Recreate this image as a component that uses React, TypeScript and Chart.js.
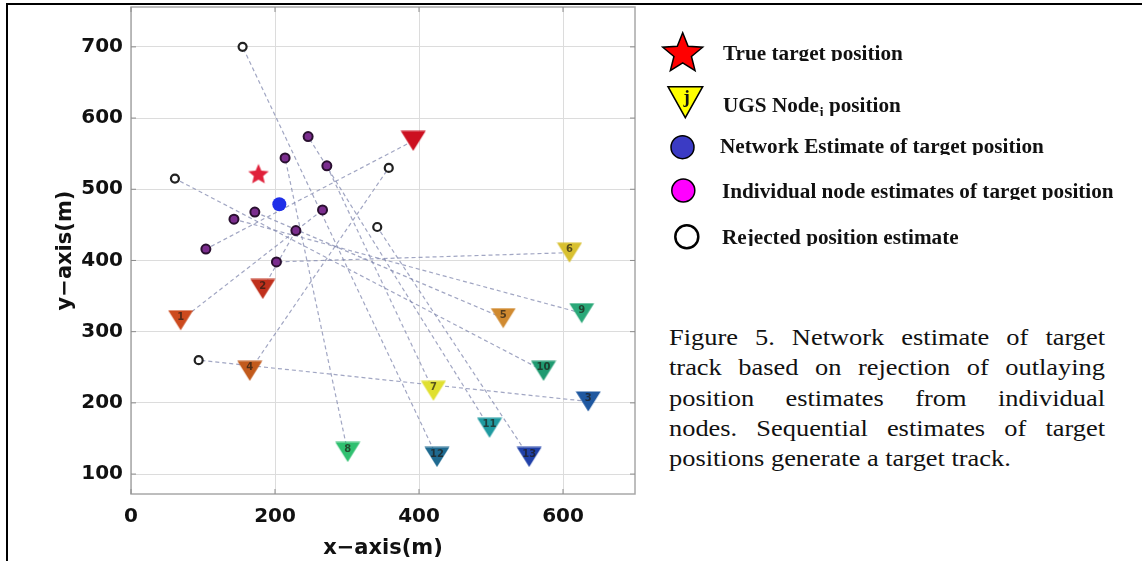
import { useEffect, useRef } from 'react';
import { Chart, registerables } from 'chart.js';

Chart.register(...registerables);

// UGS sensor nodes, drawn as down-pointing triangles
const nodeLabels = ['', '1', '2', '3', '4', '5', '6', '7', '8', '9', '10', '11', '12', '13'];
const nodeX = [392, 69, 183, 635, 165, 517, 609, 420, 301, 626, 573, 498, 425, 553];
const nodeY = [568, 316, 360, 202, 245, 319, 411, 217, 131, 326, 245, 165, 124, 124];
const nodeColors = [
  '#cc1020', '#cc4a1e', '#c0301c', '#1f58a0', '#c25a1c', '#d08a30', '#d8c030',
  '#e0e030', '#30c070', '#2aa878', '#1f9a70', '#1e9aa0', '#1f6a90', '#2040a8',
];

// Target position estimate reported by each node (same order as the nodes)
const estX = [104, 266, 229, 94, 358, 172, 202, 272, 214, 143, 61, 246, 155, 342];
const estY = [416, 471, 442, 260, 530, 468, 398, 533, 544, 458, 515, 574, 700, 447];
const estRejected = [false, false, false, true, true, false, false, false, false, false, true, false, true, true];

// True target and fused network estimate
const targetX = [177];
const targetY = [522];
const networkX = [206];
const networkY = [479];

// Axes
const xLimits = [0, 700];
const yLimits = [72, 756];
const xTicks = [0, 200, 400, 600];
const yTicks = [100, 200, 300, 400, 500, 600, 700];

const captionLines = [
  'Figure 5. Network estimate of target',
  'track based on rejection of outlaying',
  'position estimates from individual',
  'nodes. Sequential estimates of target',
  'positions generate a target track.',
];

const axisFont = { family: '"DejaVu Sans", Arial, sans-serif', weight: 'bold' as const, size: 20 };
const titleFont = { family: '"DejaVu Sans", Arial, sans-serif', weight: 'bold' as const, size: 21 };

function triangleMarker(color: string): HTMLCanvasElement {
  const c = document.createElement('canvas');
  c.width = 26;
  c.height = 21;
  const g = c.getContext('2d')!;
  g.fillStyle = color;
  g.beginPath();
  g.moveTo(0.5, 0.5);
  g.lineTo(25.5, 0.5);
  g.lineTo(13, 20.5);
  g.closePath();
  g.fill();
  return c;
}

function starMarker(color: string): HTMLCanvasElement {
  const c = document.createElement('canvas');
  c.width = 24;
  c.height = 22;
  const g = c.getContext('2d')!;
  const R = 10.8;
  const r = R * 0.45;
  const cx = 12;
  const cy = 11 + 0.0955 * R;
  g.fillStyle = color;
  g.beginPath();
  for (let k = 0; k < 10; k++) {
    const rad = k % 2 === 0 ? R : r;
    const ang = -Math.PI / 2 + (k * Math.PI) / 5;
    const px = cx + rad * Math.cos(ang);
    const py = cy + rad * Math.sin(ang);
    if (k === 0) g.moveTo(px, py);
    else g.lineTo(px, py);
  }
  g.closePath();
  g.fill();
  return c;
}

const plotDecor = {
  id: 'plotDecor',
  beforeDatasetsDraw(chart: any) {
    const { ctx, chartArea: a, scales } = chart;
    ctx.save();
    ctx.strokeStyle = '#a8a8a8';
    ctx.lineWidth = 1.5;
    ctx.strokeRect(a.left, a.top, a.right - a.left, a.bottom - a.top);
    ctx.strokeStyle = '#8c8c8c';
    ctx.lineWidth = 1;
    ctx.beginPath();
    for (const v of xTicks) {
      const px = scales.x.getPixelForValue(v);
      ctx.moveTo(px, a.bottom);
      ctx.lineTo(px, a.bottom - 5);
      ctx.moveTo(px, a.top);
      ctx.lineTo(px, a.top + 5);
    }
    for (const v of yTicks) {
      const py = scales.y.getPixelForValue(v);
      ctx.moveTo(a.left, py);
      ctx.lineTo(a.left + 5, py);
      ctx.moveTo(a.right, py);
      ctx.lineTo(a.right - 5, py);
    }
    ctx.stroke();
    ctx.restore();
  },
  afterDatasetsDraw(chart: any) {
    const { ctx } = chart;
    const meta = chart.getDatasetMeta(0);
    ctx.save();
    ctx.font = 'bold 10px "DejaVu Sans", Arial, sans-serif';
    ctx.fillStyle = 'rgba(30,25,20,0.7)';
    ctx.textAlign = 'center';
    ctx.textBaseline = 'middle';
    meta.data.forEach((el: any, i: number) => {
      if (nodeLabels[i]) ctx.fillText(nodeLabels[i], el.x, el.y - 3);
    });
    ctx.restore();
  },
};

function buildConfig(): any {
  const links = nodeX.map((x, i) => ({
    data: [
      { x, y: nodeY[i] },
      { x: estX[i], y: estY[i] },
    ],
    showLine: true,
    borderColor: 'rgba(130,136,175,0.75)',
    borderWidth: 1.2,
    borderDash: [4, 3],
    pointRadius: 0,
    order: 6,
  }));

  const accepted = estX
    .map((x, i) => ({ x, y: estY[i] }))
    .filter((_, i) => !estRejected[i]);
  const rejected = estX
    .map((x, i) => ({ x, y: estY[i] }))
    .filter((_, i) => estRejected[i]);

  const zeroPadding = (s: any) => {
    s.paddingLeft = 0;
    s.paddingRight = 0;
    s.paddingTop = 0;
    s.paddingBottom = 0;
  };

  return {
    type: 'scatter',
    data: {
      datasets: [
        {
          label: 'UGS Node position',
          data: nodeX.map((x, i) => ({ x, y: nodeY[i] })),
          pointStyle: nodeColors.map(triangleMarker),
          pointRadius: 10,
          order: 5,
        },
        {
          label: 'Network Estimate of target position',
          data: networkX.map((x, i) => ({ x, y: networkY[i] })),
          pointStyle: 'circle',
          pointRadius: 7,
          pointBackgroundColor: '#1f2fe8',
          pointBorderColor: '#1f2fe8',
          pointBorderWidth: 0,
          order: 0,
        },
        {
          label: 'True target position',
          data: targetX.map((x, i) => ({ x, y: targetY[i] })),
          pointStyle: starMarker('#e0203a'),
          pointRadius: 10,
          order: 1,
        },
        {
          label: 'Individual node estimates of target position',
          data: accepted,
          pointStyle: 'circle',
          pointRadius: 4.5,
          pointBackgroundColor: '#7b2d8e',
          pointBorderColor: '#2a1030',
          pointBorderWidth: 2,
          order: 2,
        },
        {
          label: 'Rejected position estimate',
          data: rejected,
          pointStyle: 'circle',
          pointRadius: 4,
          pointBackgroundColor: '#ffffff',
          pointBorderColor: '#222222',
          pointBorderWidth: 2.2,
          order: 3,
        },
        ...links,
      ],
    },
    options: {
      animation: false,
      responsive: false,
      events: [],
      layout: { autoPadding: false, padding: { left: 0, top: 7, right: 5, bottom: 0 } },
      plugins: { legend: { display: false }, tooltip: { enabled: false } },
      scales: {
        x: {
          type: 'linear',
          min: xLimits[0],
          max: xLimits[1],
          afterBuildTicks: (s: any) => {
            s.ticks = xTicks.map((v) => ({ value: v }));
          },
          afterFit: (s: any) => {
            s.height = 67;
            zeroPadding(s);
          },
          grid: { color: '#dcdcdc', lineWidth: 1, drawTicks: false },
          border: { display: false },
          ticks: { padding: 11, color: '#111', font: axisFont, maxRotation: 0, autoSkip: false },
          title: { display: true, text: 'x−axis(m)', color: '#111', font: titleFont, padding: { top: 0, bottom: 0 } },
        },
        y: {
          type: 'linear',
          min: yLimits[0],
          max: yLimits[1],
          afterBuildTicks: (s: any) => {
            s.ticks = yTicks.map((v) => ({ value: v }));
          },
          afterFit: (s: any) => {
            s.width = 131;
            zeroPadding(s);
          },
          grid: { color: '#dcdcdc', lineWidth: 1, drawTicks: false },
          border: { display: false },
          ticks: { padding: 8, color: '#111', font: axisFont, autoSkip: false },
          title: { display: true, text: 'y−axis(m)', color: '#111', font: titleFont, padding: { top: 53, bottom: 0 } },
        },
      },
    },
    plugins: [plotDecor],
  };
}

const legendRows = [
  { baseline: 59.3, cut: 61.5, left: 722.7, content: <>True target position</> },
  {
    baseline: 112,
    cut: 116,
    left: 722.7,
    content: (
      <>
        UGS Node<sub style={{ fontSize: 13, verticalAlign: -4, lineHeight: 0 }}>j</sub> position
      </>
    ),
  },
  { baseline: 152.7, cut: 154.8, left: 720, content: <>Network Estimate of target position</> },
  { baseline: 197.3, cut: 200.5, left: 722.3, content: <>Individual node estimates of target position</> },
  { baseline: 244, cut: 246, left: 722.3, content: <>Rejected position estimate</> },
];

function starPoints(cx: number, cy: number, R: number, r: number): string {
  const pts: string[] = [];
  for (let k = 0; k < 10; k++) {
    const rad = k % 2 === 0 ? R : r;
    const ang = -Math.PI / 2 + (k * Math.PI) / 5;
    pts.push(`${(cx + rad * Math.cos(ang)).toFixed(2)},${(cy + rad * Math.sin(ang)).toFixed(2)}`);
  }
  return pts.join(' ');
}

export default function App() {
  const canvasRef = useRef<HTMLCanvasElement>(null);

  useEffect(() => {
    const chart = new Chart(canvasRef.current!, buildConfig());
    return () => chart.destroy();
  }, []);

  const serif = '"Liberation Serif", "Times New Roman", Times, serif';

  return (
    <div
      style={{
        position: 'absolute',
        left: 0,
        top: 0,
        width: 1142,
        height: 561,
        background: '#ffffff',
        overflow: 'hidden',
      }}
    >
      <canvas ref={canvasRef} width={640} height={561} style={{ position: 'absolute', left: 0, top: 0 }} />

      {/* page frame */}
      <div style={{ position: 'absolute', left: 6, top: 3, width: 1136, height: 2, background: '#000' }} />
      <div style={{ position: 'absolute', left: 6, top: 3, width: 2, height: 558, background: '#000' }} />

      {/* legend symbols */}
      <svg width={90} height={270} style={{ position: 'absolute', left: 640, top: 0 }}>
        <polygon points={starPoints(42.7, 53.7, 21, 9.2)} fill="#ff0000" stroke="#000" strokeWidth={1.5} strokeLinejoin="miter" />
        <polygon points="28,86.7 62.7,86.7 45.3,117.7" fill="#ffff00" stroke="#000" strokeWidth={1.5} />
        <text x={46.7} y={103} textAnchor="middle" fontFamily={serif} fontWeight="bold" fontSize={19} fill="#111">
          j
        </text>
        <circle cx={42.5} cy={147.2} r={11.5} fill="#3b3bc4" stroke="#000" strokeWidth={1.5} />
        <circle cx={43.3} cy={190.5} r={11.5} fill="#ff00ff" stroke="#000" strokeWidth={1.5} />
        <circle cx={46.8} cy={236.7} r={11.5} fill="#ffffff" stroke="#000" strokeWidth={2.5} />
      </svg>

      {/* legend text */}
      {legendRows.map((row, i) => {
        const top = row.baseline - 16.75;
        return (
          <div
            key={i}
            style={{
              position: 'absolute',
              left: row.left,
              top,
              height: row.cut - top,
              overflow: 'hidden',
              whiteSpace: 'nowrap',
              fontFamily: serif,
              fontWeight: 'bold',
              fontSize: 20,
              lineHeight: '20px',
              color: '#111',
              transform: 'scaleX(1.06)',
              transformOrigin: 'left top',
            }}
          >
            {row.content}
          </div>
        );
      })}

      {/* caption */}
      {captionLines.map((line, i) => {
        const last = i === captionLines.length - 1;
        return (
          <div
            key={i}
            style={{
              position: 'absolute',
              left: 669.3,
              top: 345 + i * 30.4 - 23.3,
              width: 396.4,
              fontFamily: serif,
              fontSize: 24,
              lineHeight: '30.4px',
              color: '#111',
              whiteSpace: 'nowrap',
              textAlign: last ? 'left' : 'justify',
              textAlignLast: last ? 'left' : 'justify',
              transform: 'scaleX(1.1)',
              transformOrigin: 'left top',
            }}
          >
            {line}
          </div>
        );
      })}
    </div>
  );
}
